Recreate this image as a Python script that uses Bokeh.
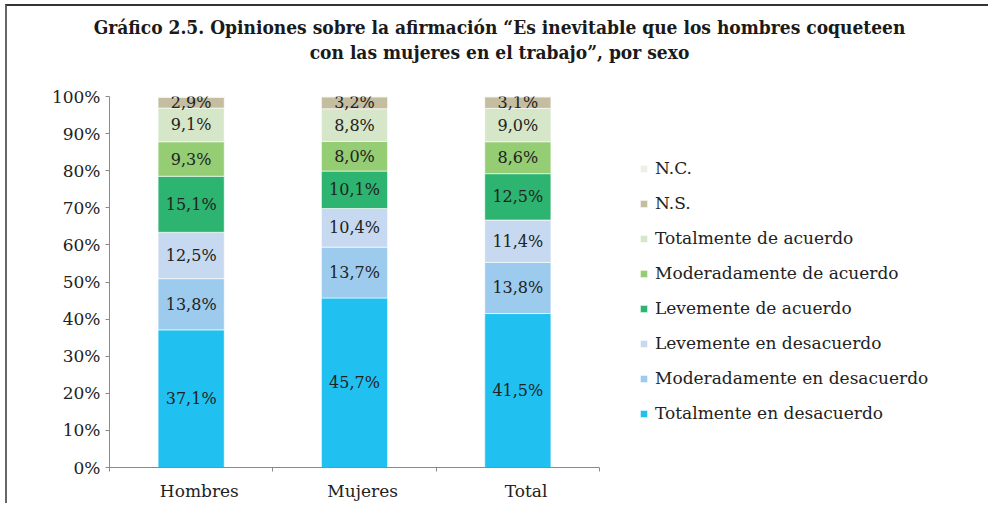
from bokeh.plotting import figure
from bokeh.models import (ColumnDataSource, Range1d, FixedTicker, Legend, LegendItem, Div)
from bokeh.layouts import column
from bokeh.core.properties import value
from bokeh.embed import file_html
from bokeh.resources import INLINE

# ---- data ----
categories = ["Hombres", "Mujeres", "Total"]
series_names = [
    "Totalmente en desacuerdo",
    "Moderadamente en desacuerdo",
    "Levemente en desacuerdo",
    "Levemente de acuerdo",
    "Moderadamente de acuerdo",
    "Totalmente de acuerdo",
    "N.S.",
    "N.C.",
]
tot_desacuerdo = [37.1, 45.7, 41.5]
mod_desacuerdo = [13.8, 13.7, 13.8]
lev_desacuerdo = [12.5, 10.4, 11.4]
lev_acuerdo = [15.1, 10.1, 12.5]
mod_acuerdo = [9.3, 8.0, 8.6]
tot_acuerdo = [9.1, 8.8, 9.0]
ns = [2.9, 3.2, 3.1]
nc = [0.2, 0.1, 0.1]
y_ticks = list(range(0, 101, 10))
title_lines = [
    "Gráfico 2.5. Opiniones sobre la afirmación “Es inevitable que los hombres coqueteen",
    "con las mujeres en el trabajo”, por sexo",
]

colors = ["#20C1F1", "#9DCBEE", "#C6D9F0", "#2CB470", "#94CD73", "#D6E6C9", "#C4BD9F", "#EEEEE6"]
labeled = [True, True, True, True, True, True, True, False]

FONT = "DejaVu Serif"
values_all = [tot_desacuerdo, mod_desacuerdo, lev_desacuerdo, lev_acuerdo,
              mod_acuerdo, tot_acuerdo, ns, nc]
keys = [f"s{i}" for i in range(len(values_all))]

# layout (pixels)
FIG_W, FIG_H = 975, 421
B_LEFT, B_RIGHT, B_TOP, B_BOTTOM = 102, 10, 14, 34
CAT_PX = 490  # width of the category area of the axis
LABEL_SHIFT = 0.05  # category labels sit slightly right of bar centres
frame_w = FIG_W - B_LEFT - B_RIGHT
n = len(categories)
x_end = n * frame_w / CAT_PX

xpos = [i + 0.5 for i in range(n)]
data = {"x": xpos}
for k, v in zip(keys, values_all):
    data[k] = v
src = ColumnDataSource(data)

p = figure(width=FIG_W, height=FIG_H, output_backend="svg", toolbar_location=None,
           x_range=Range1d(0, x_end), y_range=Range1d(0, 100),
           min_border_left=B_LEFT, min_border_right=B_RIGHT, min_border_top=B_TOP,
           min_border_bottom=B_BOTTOM)
p.outline_line_color = None
p.xgrid.grid_line_color = None
p.ygrid.grid_line_color = None

renderers = p.vbar_stack(keys, x="x", width=0.405, source=src, color=colors,
                         line_color="white", line_width=0.6)

# segment labels
lx, ly, lt = [], [], []
for i, cat in enumerate(categories):
    base = 0.0
    for vals, lab in zip(values_all, labeled):
        v = vals[i]
        if lab:
            lx.append(xpos[i])
            ly.append(base + v / 2)
            lt.append(f"{v:.1f}%".replace(".", ","))
        base += v
lab_src = ColumnDataSource(dict(x=lx, y=ly, t=lt))
p.text(x="x", y="y", text="t", source=lab_src, text_align="center",
       text_baseline="middle", text_font=value(FONT), text_font_size="16px",
       text_color="#222222")

# axes
p.yaxis.ticker = FixedTicker(ticks=y_ticks)
p.yaxis.major_label_overrides = {t: f"{t}%" for t in y_ticks}
p.yaxis.minor_tick_line_color = None
p.yaxis.major_tick_in = 0
p.yaxis.major_tick_out = 4
p.yaxis.axis_line_color = "#8a8a8a"
p.yaxis.major_tick_line_color = "#8a8a8a"
p.yaxis.major_label_text_font = FONT
p.yaxis.major_label_text_font_size = "17px"
p.yaxis.major_label_text_color = "#222222"
p.yaxis.major_label_standoff = 5

label_pos = [x + LABEL_SHIFT for x in xpos]
p.xaxis.bounds = (0, n)
p.xaxis.ticker = FixedTicker(ticks=label_pos, minor_ticks=list(range(n + 1)))
p.xaxis.major_label_overrides = {x: c for x, c in zip(label_pos, categories)}
p.xaxis.major_tick_line_color = None
p.xaxis.major_tick_in = 0
p.xaxis.major_tick_out = 4
p.xaxis.minor_tick_in = 0
p.xaxis.minor_tick_out = 4
p.xaxis.minor_tick_line_color = "#8a8a8a"
p.xaxis.axis_line_color = "#8a8a8a"
p.xaxis.major_label_text_font = FONT
p.xaxis.major_label_text_font_size = "17px"
p.xaxis.major_label_text_color = "#222222"
p.xaxis.major_label_standoff = 9

items = [LegendItem(label=nm, renderers=[r]) for nm, r in zip(series_names, renderers)]
legend = Legend(items=items[::-1], location=(530, 44), orientation="vertical",
                glyph_width=9, glyph_height=9, label_height=20, spacing=15,
                label_standoff=7, padding=0, margin=0,
                label_text_font=FONT, label_text_font_size="17px",
                label_text_color="#222222", border_line_color=None,
                background_fill_alpha=0)
p.add_layout(legend, "center")

title = Div(text="<br>".join(title_lines), width=FIG_W, height=66,
            styles={"text-align": "center",
                    "font-family": "'DejaVu Serif Condensed', 'Liberation Serif', serif",
                    "font-weight": "bold", "font-size": "19px", "line-height": "25px",
                    "color": "#1a1a1a", "padding-top": "4px", "box-sizing": "border-box"})

layout = column(title, p, spacing=0, margin=(4, 0, 0, 5),
                styles={"border-left": "2px solid #666666", "border-top": "2px solid #333333"})

open("out.html", "w").write(file_html(layout, INLINE))
